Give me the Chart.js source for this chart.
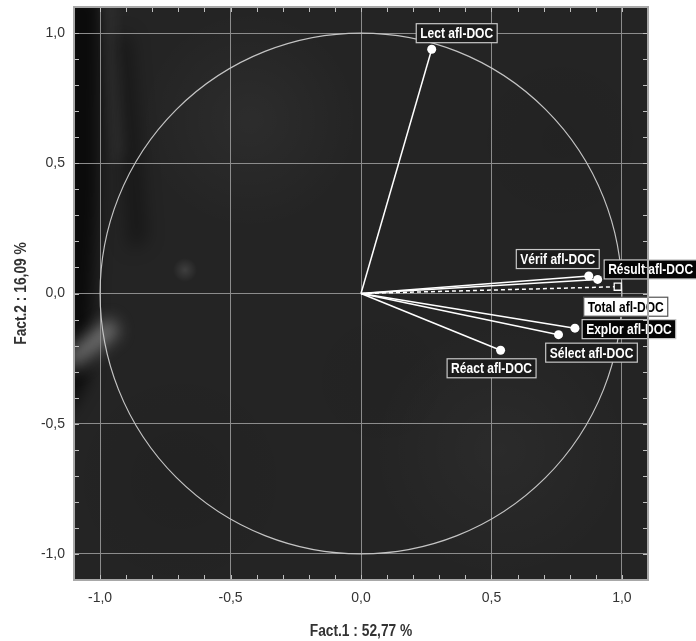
<!DOCTYPE html>
<html>
<head>
<meta charset="utf-8">
<script src="https://cdn.jsdelivr.net/npm/chart.js@4.4.1/dist/chart.umd.min.js"></script>
<style>
  html, body { margin: 0; padding: 0; background: #fff; }
  #wrap { width: 696px; height: 641px; position: relative; }
</style>
</head>
<body>
<div id="wrap"><canvas id="pca"></canvas></div>
<script>
// variables projected on the factor plane (Fact.1 x Fact.2)
const variables = ['Lect afl-DOC', 'Vérif afl-DOC', 'Résult afl-DOC', 'Total afl-DOC', 'Explor afl-DOC', 'Sélect afl-DOC', 'Réact afl-DOC'];
const fact1 = [0.271, 0.873, 0.907, 0.984, 0.820, 0.757, 0.535];
const fact2 = [0.938, 0.067, 0.054, 0.026, -0.133, -0.158, -0.218];
const axisMin = -1.1;
const axisMax = 1.1;
const xTitle = 'Fact.1 : 52,77 %';
const yTitle = 'Fact.2 : 16,09 %';

// label box placement (pixels from the point) and look
const labelOffset = [[25, -16], [-31, -17], [53, -10], [8, 20], [54, 1], [33, 18], [-9, 18]];
const labelStyle = ['dark', 'dark', 'black', 'white', 'black', 'dark', 'dark'];
const supplementary = 'Total afl-DOC';

const sansFamily = '"Liberation Sans", Arial, sans-serif';
const isMajor = v => Math.abs(Math.round(v * 2) - v * 2) < 1e-6;
const fmt = v => {
  const r = Math.round(v * 10) / 10;
  return (r === 0 ? 0 : r).toFixed(1).replace('.', ',');
};

// condensed text: plain bold font squeezed horizontally
function narrowText(ctx, text, x, y, size, squeeze, rotate) {
  ctx.save();
  ctx.translate(x, y);
  if (rotate) ctx.rotate(rotate);
  ctx.scale(squeeze, 1);
  ctx.font = 'bold ' + size + 'px ' + sansFamily;
  ctx.fillText(text, 0, 0);
  ctx.restore();
}

function blob(ctx, pts, color, blur) {
  ctx.save();
  ctx.filter = 'blur(' + blur + 'px)';
  ctx.fillStyle = color;
  ctx.beginPath();
  pts.forEach(([px, py], k) => (k ? ctx.lineTo(px, py) : ctx.moveTo(px, py)));
  ctx.closePath();
  ctx.fill();
  ctx.restore();
}

const datasets = variables.map((name, i) => {
  const sup = name === supplementary;
  return {
    label: name,
    data: [{ x: 0, y: 0 }, { x: fact1[i], y: fact2[i] }],
    showLine: true,
    borderColor: '#ffffff',
    borderWidth: 1.5,
    borderDash: sup ? [4, 3] : [],
    pointRadius: [0, sup ? 5 : 4.5],
    pointStyle: sup ? 'rect' : 'circle',
    pointBackgroundColor: sup ? '#222' : '#ffffff',
    pointBorderColor: '#ffffff',
    pointBorderWidth: sup ? 1.3 : 0,
  };
});

const backdrop = {
  id: 'backdrop',
  beforeDraw(chart) {
    const { ctx, chartArea: a } = chart;
    ctx.save();
    ctx.fillStyle = '#242424';
    ctx.fillRect(a.left, a.top, a.right - a.left, a.bottom - a.top);
    ctx.beginPath();
    ctx.rect(a.left, a.top, a.right - a.left, a.bottom - a.top);
    ctx.clip();
    // photo-like shading along the left edge
    blob(ctx, [[a.left - 10, a.top - 10], [a.left + 26, a.top - 10], [a.left + 24, 200], [a.left + 14, 380], [a.left - 10, 420]], 'rgba(0,0,0,0.7)', 8);
    blob(ctx, [[a.left + 27, a.top - 10], [a.left + 40, a.top - 10], [a.left + 52, 150], [a.left + 40, 170]], 'rgba(255,255,255,0.06)', 6);
    blob(ctx, [[a.left + 42, 35], [a.left + 56, 35], [a.left + 72, 240], [a.left + 56, 250]], 'rgba(0,0,0,0.4)', 9);
    blob(ctx, [[a.left - 8, 352], [a.left + 36, 318], [a.left + 46, 332], [a.left - 2, 372]], 'rgba(170,170,170,0.6)', 8);
    // a few mottled patches
    [[250, 120, 110, 0.04], [500, 450, 130, 0.03], [180, 480, 120, -0.07], [560, 140, 100, -0.05], [380, 380, 90, -0.04], [185, 270, 12, 0.12]].forEach(([cx, cy, r, k]) => {
      const rg = ctx.createRadialGradient(cx, cy, 0, cx, cy, r);
      const c = k > 0 ? '255,255,255' : '0,0,0';
      rg.addColorStop(0, 'rgba(' + c + ',' + Math.abs(k) + ')');
      rg.addColorStop(1, 'rgba(' + c + ',0)');
      ctx.fillStyle = rg;
      ctx.fillRect(cx - r, cy - r, r * 2, r * 2);
    });
    ctx.restore();
  },
  beforeDatasetsDraw(chart) {
    const { ctx, scales: { x, y } } = chart;
    const cx = x.getPixelForValue(0), cy = y.getPixelForValue(0);
    const rx = x.getPixelForValue(1) - cx, ry = cy - y.getPixelForValue(1);
    ctx.save();
    ctx.strokeStyle = '#c4c4c4';
    ctx.lineWidth = 1.2;
    ctx.beginPath();
    ctx.ellipse(cx, cy, rx, ry, 0, 0, Math.PI * 2);
    ctx.stroke();
    ctx.restore();
  },
  afterDatasetsDraw(chart) {
    const { ctx, scales: { x, y } } = chart;
    ctx.save();
    ctx.textAlign = 'center';
    ctx.textBaseline = 'middle';
    ctx.font = 'bold 14px ' + sansFamily;
    variables.forEach((name, i) => {
      const px = x.getPixelForValue(fact1[i]) + labelOffset[i][0];
      const py = y.getPixelForValue(fact2[i]) + labelOffset[i][1];
      const w = ctx.measureText(name).width * 0.86 + 8, h = 19;
      const st = labelStyle[i];
      ctx.fillStyle = st === 'white' ? '#ffffff' : st === 'black' ? '#050505' : '#1c1c1c';
      ctx.fillRect(px - w / 2, py - h / 2, w, h);
      ctx.strokeStyle = st === 'white' ? '#555' : '#c8c8c8';
      ctx.lineWidth = 1.2;
      ctx.strokeRect(px - w / 2, py - h / 2, w, h);
      ctx.fillStyle = st === 'white' ? '#000' : '#fff';
      narrowText(ctx, name, px, py + 1, 14, 0.86);
    });
    ctx.restore();
  },
  afterDraw(chart) {
    const { ctx, chartArea: a, scales: { x, y } } = chart;
    ctx.save();
    ctx.strokeStyle = '#c0c0c0';
    ctx.lineWidth = 1;
    for (let i = -11; i <= 11; i++) {
      const v = i / 10;
      const px = Math.round(x.getPixelForValue(v)) + 0.5;
      const py = Math.round(y.getPixelForValue(v)) + 0.5;
      ctx.beginPath();
      ctx.moveTo(px, a.bottom); ctx.lineTo(px, a.bottom - 5);
      ctx.moveTo(px, a.top); ctx.lineTo(px, a.top + 5);
      ctx.moveTo(a.left, py); ctx.lineTo(a.left + 5, py);
      ctx.moveTo(a.right, py); ctx.lineTo(a.right - 5, py);
      ctx.stroke();
    }
    ctx.strokeStyle = '#a8a8a8';
    ctx.lineWidth = 2;
    ctx.strokeRect(a.left, a.top, a.right - a.left, a.bottom - a.top);
    // axis titles
    ctx.fillStyle = '#333';
    ctx.textAlign = 'center';
    ctx.textBaseline = 'middle';
    narrowText(ctx, xTitle, (a.left + a.right) / 2, 632, 16, 0.86);
    narrowText(ctx, yTitle, 22, (a.top + a.bottom) / 2, 16, 0.86, -Math.PI / 2);
    ctx.restore();
  }
};

const tickFont = { family: sansFamily, size: 14 };
const gridColor = ctx => (ctx.tick && isMajor(ctx.tick.value) ? '#8c8c8c' : 'rgba(0,0,0,0)');

new Chart(document.getElementById('pca'), {
  type: 'scatter',
  data: { datasets },
  options: {
    responsive: true,
    maintainAspectRatio: false,
    animation: false,
    layout: { padding: { top: 7, right: 48, left: 0, bottom: 0 } },
    plugins: { legend: { display: false }, tooltip: { enabled: false } },
    scales: {
      x: {
        type: 'linear',
        min: axisMin,
        max: axisMax,
        afterFit(scale) {
          scale.height = 61;
          scale.paddingLeft = 0;
          scale.paddingRight = 0;
        },
        border: { display: false },
        grid: { color: gridColor, lineWidth: 1, drawTicks: false },
        ticks: {
          stepSize: 0.1,
          autoSkip: false,
          maxRotation: 0,
          padding: 10,
          color: '#333',
          font: tickFont,
          callback: v => (isMajor(v) ? fmt(v) : '')
        }
      },
      y: {
        type: 'linear',
        min: axisMin,
        max: axisMax,
        afterFit(scale) {
          scale.width = 74;
          scale.paddingTop = 0;
          scale.paddingBottom = 0;
        },
        border: { display: false },
        grid: { color: gridColor, lineWidth: 1, drawTicks: false },
        ticks: {
          stepSize: 0.1,
          autoSkip: false,
          padding: 9,
          color: '#333',
          font: tickFont,
          callback: v => (isMajor(v) ? fmt(v) : '')
        }
      }
    }
  },
  plugins: [backdrop]
});
</script>
</body>
</html>
